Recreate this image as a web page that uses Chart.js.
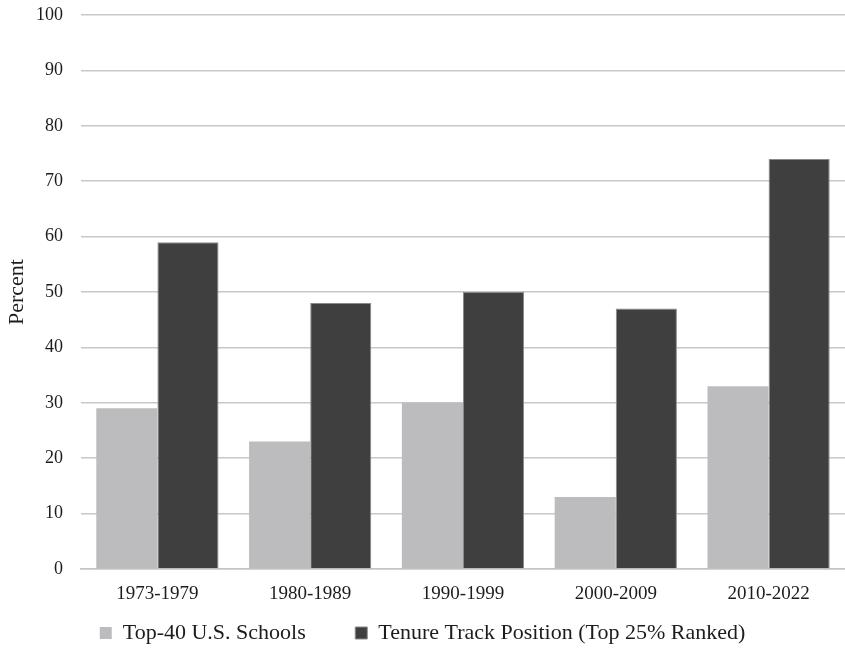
<!DOCTYPE html>
<html>
<head>
<meta charset="utf-8">
<script src="https://cdn.jsdelivr.net/npm/chart.js@4"></script>
<style>
  html, body { margin: 0; padding: 0; background: #ffffff; }
  #wrap { width: 845px; height: 648px; position: relative; }
</style>
</head>
<body>
<div id="wrap"><canvas id="c" width="845" height="648"></canvas></div>
<script>
const categories = ["1973-1979", "1980-1989", "1990-1999", "2000-2009", "2010-2022"];
const seriesNames = ["Top-40 U.S. Schools", "Tenure Track Position (Top 25% Ranked)"];
const top40Schools = [29, 23, 30, 13, 33];
const tenureTrack = [59, 48, 50, 47, 74];
const yTicks = [0, 10, 20, 30, 40, 50, 60, 70, 80, 90, 100];

const serif = "'Liberation Serif', 'Times New Roman', serif";

new Chart(document.getElementById('c'), {
  type: 'bar',
  data: {
    labels: categories,
    datasets: [
      { label: seriesNames[0], data: top40Schools, backgroundColor: '#bcbcbf', borderColor: '#b0b0b3', borderWidth: 0 },
      { label: seriesNames[1], data: tenureTrack, backgroundColor: '#3f3f3f', borderColor: '#8a8a8a', borderWidth: 1 }
    ]
  },
  options: {
    responsive: false,
    animation: false,
    devicePixelRatio: 1,
    layout: { padding: { top: 15, right: 0, left: 0, bottom: 0 } },
    datasets: { bar: { categoryPercentage: 0.8, barPercentage: 1.0 } },
    plugins: {
      tooltip: { enabled: false },
      legend: {
        position: 'bottom',
        maxHeight: 37,
        labels: {
          color: '#1c1c1c',
          font: { family: serif, size: 22 },
          boxWidth: 12, boxHeight: 12,
          padding: 11,
          useBorderRadius: false,
          generateLabels: (chart) => {
            const items = Chart.defaults.plugins.legend.labels.generateLabels(chart);
            items[0].text = items[0].text + '       ';
            return items;
          }
        }
      }
    },
    scales: {
      x: {
        grid: { display: false, drawTicks: false },
        border: { display: true, color: '#c4c4c4', width: 1.5 },
        ticks: { color: '#1c1c1c', font: { family: serif, size: 19 }, padding: 14, maxRotation: 0 },
        afterFit: (s) => { s.height = 42; }
      },
      y: {
        min: 0, max: 100,
        afterBuildTicks: (s) => { s.ticks = yTicks.map(v => ({ value: v })); },
        grid: { color: '#c8c8c8', lineWidth: 1.5, drawTicks: false },
        border: { display: false },
        ticks: { color: '#1c1c1c', font: { family: serif, size: 18 }, padding: 18 },
        title: { display: true, text: 'Percent', color: '#1c1c1c', font: { family: serif, size: 22 }, padding: { top: 4, bottom: 0 } },
        afterFit: (s) => { s.width = 81; s.paddingTop = 0; s.paddingBottom = 0; }
      }
    }
  }
});
</script>
</body>
</html>
